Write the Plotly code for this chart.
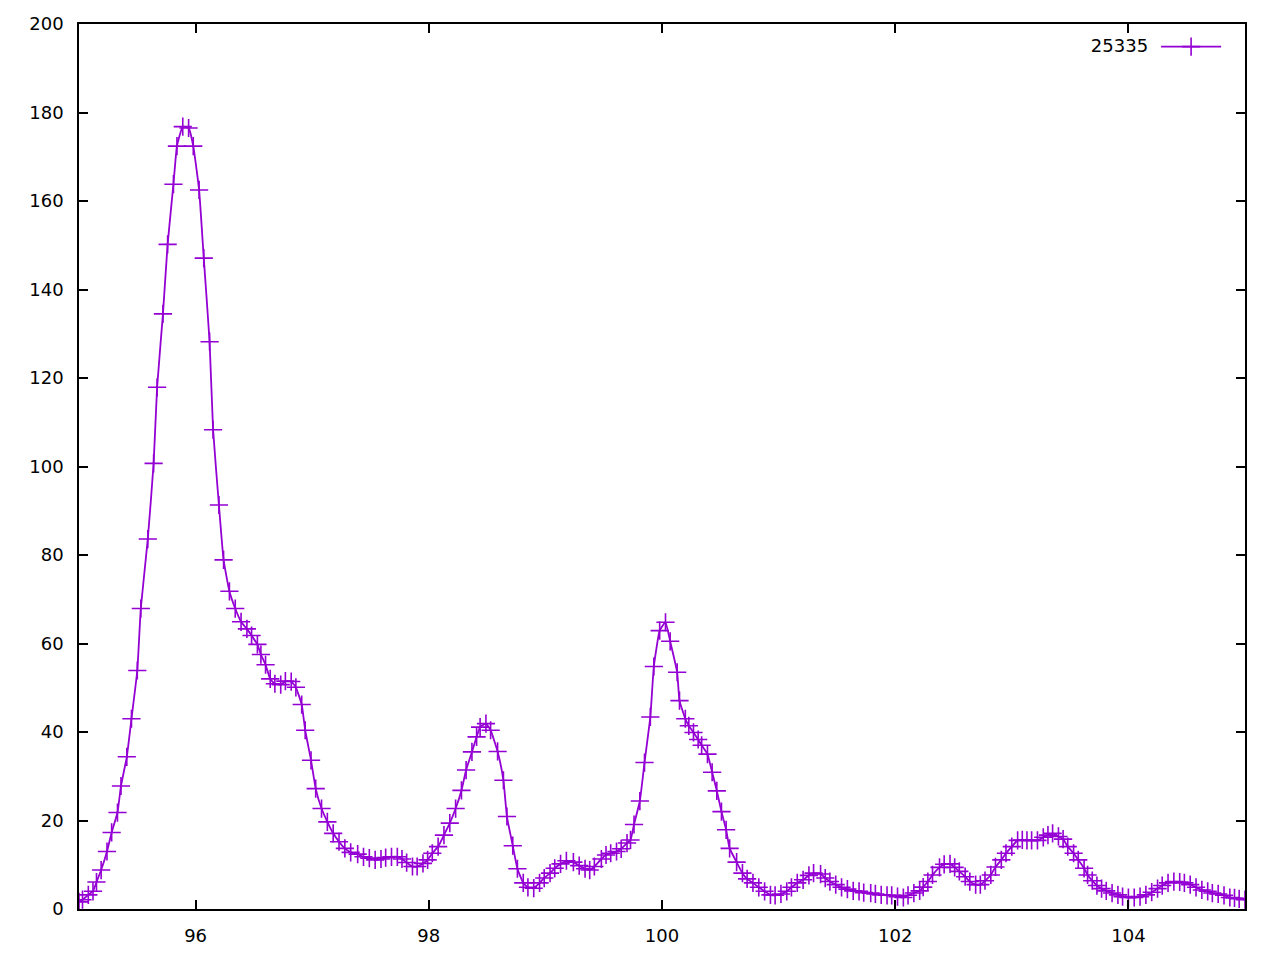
import plotly.graph_objects as go

mz = [95.00, 95.03, 95.08, 95.12, 95.15, 95.19, 95.24, 95.28, 95.33, 95.36,
      95.41, 95.45, 95.50, 95.53, 95.59, 95.64, 95.67, 95.72, 95.76, 95.81,
      95.84, 95.89, 95.94, 95.98, 96.03, 96.07, 96.12, 96.15, 96.20, 96.24,
      96.29, 96.34, 96.39, 96.44, 96.48, 96.53, 96.56, 96.60, 96.64, 96.68,
      96.73, 96.77, 96.82, 96.86, 96.91, 96.94, 96.99, 97.03, 97.08, 97.13,
      97.18, 97.23, 97.28, 97.33, 97.39, 97.44, 97.49, 97.54, 97.59, 97.63,
      97.68, 97.73, 97.77, 97.81, 97.86, 97.90, 97.95, 97.99, 98.03, 98.08,
      98.13, 98.18, 98.23, 98.28, 98.32, 98.37, 98.41, 98.44, 98.49, 98.53,
      98.59, 98.64, 98.67, 98.72, 98.76, 98.81, 98.85, 98.90, 98.95, 98.99,
      99.04, 99.08, 99.13, 99.18, 99.24, 99.29, 99.34, 99.38, 99.42, 99.48,
      99.52, 99.56, 99.61, 99.65, 99.70, 99.73, 99.76, 99.81, 99.85, 99.90,
      99.93, 99.98, 100.03, 100.07, 100.13, 100.15, 100.20, 100.23, 100.27, 100.31,
      100.34, 100.39, 100.43, 100.47, 100.51, 100.55, 100.58, 100.64, 100.69, 100.73,
      100.78, 100.83, 100.88, 100.93, 100.97, 101.02, 101.07, 101.11, 101.16, 101.21,
      101.26, 101.30, 101.36, 101.40, 101.44, 101.49, 101.54, 101.59, 101.64, 101.69,
      101.73, 101.79, 101.83, 101.88, 101.93, 101.97, 102.02, 102.07, 102.11, 102.16,
      102.21, 102.24, 102.28, 102.32, 102.38, 102.42, 102.47, 102.51, 102.55, 102.60,
      102.64, 102.69, 102.73, 102.77, 102.82, 102.86, 102.91, 102.95, 103.00, 103.05,
      103.09, 103.13, 103.17, 103.22, 103.27, 103.31, 103.35, 103.40, 103.44, 103.48,
      103.53, 103.57, 103.62, 103.65, 103.69, 103.73, 103.77, 103.81, 103.86, 103.91,
      103.95, 104.00, 104.05, 104.10, 104.15, 104.20, 104.25, 104.29, 104.34, 104.39,
      104.44, 104.48, 104.53, 104.58, 104.63, 104.68, 104.72, 104.77, 104.82, 104.87,
      104.91, 104.95, 105.00]

intensity = [1.6, 2.1, 3.2, 4.0, 6.1, 8.8, 13.0, 17.3, 21.8, 27.8,
             34.4, 43.0, 53.9, 67.9, 83.6, 100.7, 117.9, 134.5, 150.2, 163.8,
             172.4, 176.8, 176.5, 172.4, 162.5, 147.1, 128.2, 108.3, 91.3, 78.9,
             71.8, 67.9, 64.9, 63.3, 61.8, 59.8, 57.5, 55.2, 52.0, 50.9,
             50.7, 51.5, 51.4, 50.1, 46.2, 40.4, 33.6, 27.2, 22.7, 19.7,
             17.1, 15.2, 13.7, 12.8, 12.4, 11.8, 11.5, 11.1, 11.3, 11.6,
             11.8, 11.8, 11.3, 10.5, 9.6, 9.6, 10.3, 11.1, 12.6, 14.1,
             16.7, 19.4, 22.7, 26.8, 31.4, 35.5, 38.9, 41.1, 41.9, 40.4,
             35.6, 29.1, 20.9, 14.3, 9.1, 5.9, 4.9, 4.7, 5.9, 7.0,
             8.1, 9.2, 10.2, 10.9, 10.6, 9.8, 9.1, 8.8, 9.6, 11.3,
             12.2, 12.6, 13.0, 13.6, 14.9, 15.6, 19.1, 24.4, 33.1, 43.4,
             54.8, 62.9, 64.8, 60.5, 53.5, 47.1, 43.0, 41.4, 39.9, 38.3,
             37.0, 35.0, 30.9, 26.7, 22.0, 17.9, 13.7, 10.6, 8.1, 6.8,
             5.9, 4.9, 4.0, 3.2, 3.1, 3.4, 4.0, 4.9, 5.9, 6.6,
             7.6, 8.1, 7.9, 7.0, 6.2, 5.5, 4.9, 4.5, 4.1, 4.0,
             3.7, 3.6, 3.4, 3.2, 3.1, 3.1, 2.8, 2.6, 3.1, 3.6,
             4.1, 4.95, 6.2, 7.7, 9.4, 10.1, 10.2, 9.4, 8.5, 7.3,
             6.2, 5.5, 5.5, 6.4, 7.7, 9.5, 11.1, 12.6, 14.1, 15.5,
             15.6, 15.5, 15.5, 15.5, 16.2, 16.7, 17.1, 16.4, 15.8, 14.1,
             12.6, 11.1, 9.2, 7.7, 6.4, 5.3, 4.6, 4.1, 3.6, 3.2,
             2.8, 2.6, 2.6, 2.8, 3.2, 3.8, 4.6, 5.3, 5.9, 6.2,
             6.1, 5.9, 5.5, 4.9, 4.3, 4.0, 3.6, 3.4, 3.1, 2.6,
             2.5, 2.3, 2.1]

series_name = "25335"
x_ticks = [96, 98, 100, 102, 104]
y_ticks = [0, 20, 40, 60, 80, 100, 120, 140, 160, 180, 200]

color = "#9400D3"
font = dict(family="DejaVu Sans, sans-serif", size=18, color="black")

fig = go.Figure()
fig.add_trace(go.Scatter(
    x=mz, y=intensity, mode="lines+markers", name=" ",
    line=dict(color=color, width=1.8, shape="spline", smoothing=0.4),
    marker=dict(symbol="cross-thin-open", size=13,
                line=dict(color=color, width=1.6)),
    showlegend=True,
))

axis_common = dict(
    showline=True, linecolor="black", linewidth=1.5, mirror="ticks",
    ticks="inside", ticklen=9, tickwidth=1.5, tickcolor="black",
    showgrid=False, zeroline=False, tickfont=font,
)

fig.update_layout(
    width=1282, height=958,
    margin=dict(l=79, r=37, t=24, b=47),
    paper_bgcolor="white", plot_bgcolor="white",
    font=font,
    xaxis=dict(range=[95, 105], tickvals=x_ticks, ticklabelstandoff=10,
               **axis_common),
    yaxis=dict(range=[0, 200], tickvals=y_ticks, ticklabelstandoff=10,
               **axis_common),
    legend=dict(
        orientation="h", x=0.993, xanchor="right", y=0.995, yanchor="top",
        bgcolor="rgba(0,0,0,0)", font=font,
        title=dict(text=series_name, side="left", font=font),
        itemwidth=60,
    ),
)

fig.write_html("out.html", config={"displayModeBar": False})
with open("out.html", "r", encoding="utf-8") as f:
    html = f.read()
html = html.replace("<head>", "<head><style>html,body{margin:0;padding:0;overflow:hidden}</style>", 1)
with open("out.html", "w", encoding="utf-8") as f:
    f.write(html)
